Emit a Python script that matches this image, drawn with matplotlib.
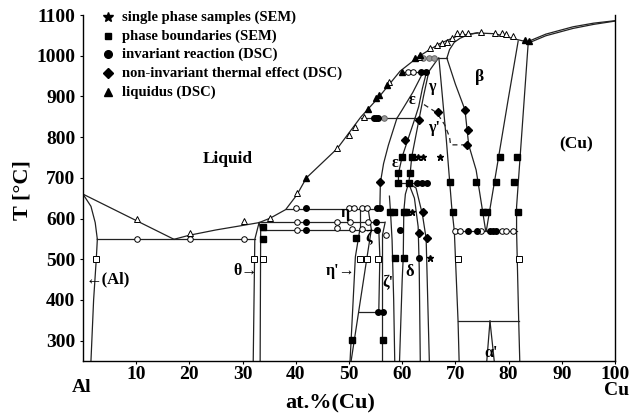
import matplotlib
matplotlib.use('Agg')
import matplotlib.pyplot as plt

plt.rcParams['font.family'] = ['Liberation Serif', 'DejaVu Serif']
plt.rcParams['font.weight'] = 'bold'

# ---------------- phase boundaries (at.% Cu, T in degC) ----------------
liq_al = [(0, 660), (17.1, 549)]
sol_al = [(0, 660), (1.5, 630), (2.3, 590), (2.7, 549)]
solv_al = [(2.7, 549), (2.5, 500), (2.0, 400), (1.5, 250)]
eut_549 = [(2.7, 549), (32.3, 549)]
liq_theta = [(17.1, 549), (20, 559), (25, 572), (30, 583), (33.1, 590)]
theta_left = [(33.1, 590), (32.3, 549), (32.0, 250)]
theta_right = [(33.1, 590), (33.4, 573), (33.3, 250)]
liq_main = [(33.1, 590), (35.2, 601), (38.1, 622), (40.2, 658), (42.0, 700),
            (47.8, 772), (52.2, 849), (55.6, 898), (59.6, 962), (63.1, 998),
            (65.3, 1016), (67.1, 1030), (70.3, 1048), (74.0, 1056),
            (77.4, 1054), (81.5, 1040), (83.5, 1034)]
liq_cu = [(83.5, 1034), (87, 1053), (92.1, 1071), (96, 1080), (100, 1086)]
sol_cu = [(83.7, 1031), (87, 1049), (92.1, 1067), (96, 1077), (100, 1085)]
sol_beta = [(68.4, 994), (68.9, 1015), (69.8, 1033), (70.9, 1043),
            (72.5, 1052), (74.2, 1056)]
peri_994 = [(62.9, 994), (68.4, 994)]
beta_left = [(68.4, 994), (70.0, 930), (71.8, 867), (72.5, 781),
             (73.9, 719), (75.7, 569)]
beta_right = [(81.8, 1036), (79.9, 891), (75.8, 569)]
cu_bound = [(83.7, 1034), (81.5, 629), (81.5, 569), (81.9, 348), (82.1, 250)]
eutectoid = [(69.8, 569), (81.5, 569)]
gamma_right = [(66.9, 994), (68.3, 793), (69.3, 629), (69.8, 569),
               (70.5, 348), (70.7, 250)]
box_348 = [(70.5, 348), (81.9, 348)]
alpha_l = [(76.5, 348), (75.9, 250)]
alpha_r = [(76.5, 348), (77.3, 250)]
peri_961 = [(60.3, 961), (64.9, 961)]
peri_846 = [(52.2, 846), (63.2, 846)]
gamma_left = [(66.8, 994), (65.0, 961), (64.0, 900), (63.2, 846),
              (61.8, 752), (61.5, 711), (61.2, 687)]
eps_left = [(64.0, 961), (62.0, 910), (60.0, 867), (59.0, 846)]
eps_right = [(64.6, 961), (63.8, 920), (63.1, 875), (62.4, 846)]
epsp_left = [(59.0, 846), (57.4, 780), (56.5, 735), (55.9, 688),
             (55.8, 624)]
epsp_right = [(62.4, 846), (60.0, 752), (59.3, 711), (59.3, 687)]
line_687 = [(59.3, 687), (64.9, 687)]
dome_outer = [(61.2, 687), (62.6, 675), (63.8, 610), (64.5, 551),
              (64.8, 400), (65.1, 250)]
dome_inner = [(61.2, 687), (62.3, 650), (63.0, 580), (63.2, 480),
              (63.4, 250)]
line_a = [(57.6, 655), (57.8, 617), (58.1, 547), (58.4, 400), (58.6, 250)]
line_b = [(61.2, 687), (60.6, 660), (60.3, 617), (60.2, 506), (60.0, 450),
          (59.5, 250)]
peri_624 = [(38.1, 624), (55.9, 624)]
line_591 = [(33.1, 591), (56.5, 591)]
line_573 = [(33.4, 573), (55.5, 573)]
eta_left = [(52.0, 624), (52.0, 573)]
eta_right = [(53.6, 624), (54.2, 573)]
etap_left = [(50.2, 250), (51.2, 506), (52.0, 570)]
etap_right = [(50.4, 250), (53.4, 506), (54.2, 573)]
line_371 = [(51.8, 371), (55.6, 371)]
zetap_left = [(55.6, 371), (55.8, 506), (55.6, 573)]
zetap_right = [(56.3, 250), (56.3, 560), (56.8, 591)]
dash_gamma = [(64.1, 880), (66.5, 860), (68.0, 830), (68.9, 800),
              (69.1, 781), (72.6, 781)]

boundaries = [liq_al, sol_al, solv_al, eut_549, liq_theta, theta_left,
              theta_right, liq_main, liq_cu, sol_cu, sol_beta, peri_994,
              beta_left, beta_right, cu_bound, eutectoid, gamma_right,
              box_348, alpha_l, alpha_r, peri_961, peri_846, gamma_left,
              eps_left, eps_right, epsp_left, epsp_right, line_687,
              dome_outer, dome_inner, line_a, line_b, peri_624,
              line_591, line_573, eta_left, eta_right, etap_left,
              etap_right, line_371, zetap_left, zetap_right]

# ---------------- experimental points ----------------
tri_filled = [(42.0, 699), (53.6, 868), (55.0, 895), (55.6, 903), (57.2, 928),
              (60.0, 961), (62.5, 994), (63.4, 1002), (83.1, 1039), (83.9, 1037)]
tri_open = [(10.2, 598), (20.2, 564), (30.2, 595), (35.2, 601), (40.2, 662),
            (47.8, 773), (50.0, 806), (51.2, 826), (52.8, 850), (57.5, 936),
            (63.1, 998), (65.3, 1018), (66.5, 1026), (67.5, 1030),
            (68.4, 1034), (69.3, 1043), (70.3, 1055), (71.2, 1055),
            (72.4, 1055), (74.9, 1059), (77.4, 1055), (78.7, 1055),
            (79.6, 1053), (80.9, 1048)]
circ_open = [(10.2, 549), (20.2, 549), (30.2, 549), (40.0, 625), (50.0, 625),
             (50.9, 625), (52.5, 625), (53.4, 625), (40.2, 591), (47.7, 592),
             (50.2, 592), (53.5, 592), (40.2, 573), (47.7, 577), (50.5, 575),
             (52.5, 575), (57.0, 560), (69.9, 569), (70.8, 569), (74.9, 569),
             (78.7, 569), (79.6, 569), (80.9, 569), (61.0, 961), (62.0, 961)]
circ_gray = [(56.5, 846), (63.9, 994), (65.0, 994), (66.0, 994)]
circ_filled = [(41.9, 625), (55.3, 625), (55.9, 625), (42.0, 591),
               (42.0, 573), (63.6, 961), (64.4, 961), (54.7, 846),
               (55.0, 846), (55.4, 846), (72.4, 569), (74.0, 569),
               (76.5, 569), (77.1, 569), (77.7, 569), (62.8, 687),
               (63.7, 687), (64.6, 687), (63.1, 502), (55.5, 371),
               (56.3, 371), (55.0, 591), (55.2, 573), (59.5, 572)]
sq_filled = [(33.75, 580), (33.75, 550), (78.4, 752), (81.6, 752),
             (69.0, 690), (73.9, 690), (77.6, 690), (81.0, 690), (69.6, 617),
             (75.1, 617), (76.0, 617), (81.8, 617), (60.0, 752), (61.8, 752),
             (59.3, 711), (61.5, 711), (59.3, 687), (61.2, 687), (57.8, 617),
             (58.4, 617), (60.3, 617), (60.8, 617), (58.7, 502), (60.3, 502),
             (51.4, 551), (50.6, 302), (56.3, 302)]
sq_open = [(2.5, 500), (32.1, 500), (33.9, 500), (52.0, 501), (53.3, 501),
           (55.5, 501), (70.4, 501), (82.0, 500)]
stars = [(64.0, 752), (67.1, 752), (61.8, 617), (65.3, 502), (63.0, 752)]
diamonds = [(55.8, 690), (60.6, 793), (63.1, 842), (71.8, 867), (72.4, 817),
            (72.1, 781), (64.0, 617), (63.1, 564), (64.6, 551), (66.8, 862)]

# ---------------- text ----------------
x_ticks = [10, 20, 30, 40, 50, 60, 70, 80, 90, 100]
y_ticks = [300, 400, 500, 600, 700, 800, 900, 1000, 1100]
legend_labels = ['single phase samples (SEM)', 'phase boundaries (SEM)',
                 'invariant reaction (DSC)', 'non-invariant thermal effect (DSC)',
                 'liquidus (DSC)']
phase_labels = [('Liquid', 27.2, 746, 12.5), ('β', 74.6, 948, 12.5),
                ('(Cu)', 92.7, 782, 12.5), ('γ', 65.6, 922, 11.5),
                ('ε', 61.8, 891, 11.5), ("γ'", 65.9, 822, 11.5),
                ("ε'", 59.0, 736, 11.5), ('η', 49.3, 613, 11.5),
                ('ζ', 53.7, 551, 11.5), ("ζ'", 57.4, 441, 11.5),
                ('δ', 61.5, 468, 12), ("α'", 76.8, 269, 11.5),
                ('θ→', 30.5, 470, 11.5), ("η'→", 48.5, 470, 11.5),
                ('←(Al)', 4.6, 451, 12)]

fig = plt.figure(figsize=(6.3, 4.19), dpi=100)
ax = fig.add_axes([0.1317, 0.1384, 0.8445, 0.8258])
ax.set_xlim(0, 100)
ax.set_ylim(250, 1100)
ax.spines['top'].set_visible(False)
for s in ['left', 'right', 'bottom']:
    ax.spines[s].set_linewidth(1.0)

for b in boundaries:
    ax.plot([p[0] for p in b], [p[1] for p in b], color='#222222', lw=0.9)
ax.plot([p[0] for p in dash_gamma], [p[1] for p in dash_gamma],
        color='#222222', lw=0.9, ls=(0, (4, 3)))

def pts(lst, **kw):
    ax.plot([p[0] for p in lst], [p[1] for p in lst], ls='none', **kw)

pts(circ_open, marker='o', ms=4, mfc='white', mec='black', mew=0.7)
pts(circ_gray, marker='o', ms=4, mfc='#999999', mec='#666666', mew=0.7)
pts(circ_filled, marker='o', ms=4, mfc='black', mec='black')
pts(sq_open, marker='s', ms=4, mfc='white', mec='black', mew=0.7)
pts(sq_filled, marker='s', ms=4, mfc='black', mec='black')
pts(tri_open, marker='^', ms=5, mfc='white', mec='black', mew=0.7)
pts(tri_filled, marker='^', ms=5, mfc='black', mec='black')
pts(stars, marker='*', ms=5, mfc='black', mec='black')
pts(diamonds, marker='D', ms=3.8, mfc='black', mec='black')

ax.set_xticks(x_ticks)
ax.set_xticklabels([str(v) for v in x_ticks])
ax.set_yticks(y_ticks)
ax.set_yticklabels([str(v) for v in y_ticks])
ax.tick_params(axis='y', direction='out', length=2.5, width=0.8,
               labelsize=14, pad=3)
ax.tick_params(axis='x', direction='out', length=2.5, width=0.8,
               labelsize=14, pad=1)
for lab in ax.get_xticklabels() + ax.get_yticklabels():
    lab.set_fontweight('bold')

ax.text(-0.3, 184, 'Al', fontsize=14, fontweight='bold', ha='center', va='center')
ax.text(100.2, 178, 'Cu', fontsize=14, fontweight='bold', ha='center', va='center')
ax.text(46.5, 145, 'at.%(Cu)', fontsize=16, fontweight='bold', ha='center', va='center')
fig.text(22 / 630, 1 - 190 / 419, 'T [°C]', fontsize=16, fontweight='bold',
         rotation=90, ha='center', va='center')

leg_markers = [dict(marker='*', ms=7), dict(marker='s', ms=5),
               dict(marker='o', ms=5.5), dict(marker='D', ms=5),
               dict(marker='^', ms=6)]
row_y = [0.994, 0.939, 0.886, 0.831, 0.777]
for mk, lab, yy in zip(leg_markers, legend_labels, row_y):
    ax.plot([0.047], [yy], transform=ax.transAxes, color='black', ls='none',
            clip_on=False, **mk)
    ax.text(0.073, yy, lab, transform=ax.transAxes, fontsize=10.5,
            fontweight='bold', va='center', ha='left')

for t, x, y, fs in phase_labels:
    ax.text(x, y, t, fontsize=fs, fontweight='bold', ha='center', va='center')

fig.savefig('out.png', dpi=100)
